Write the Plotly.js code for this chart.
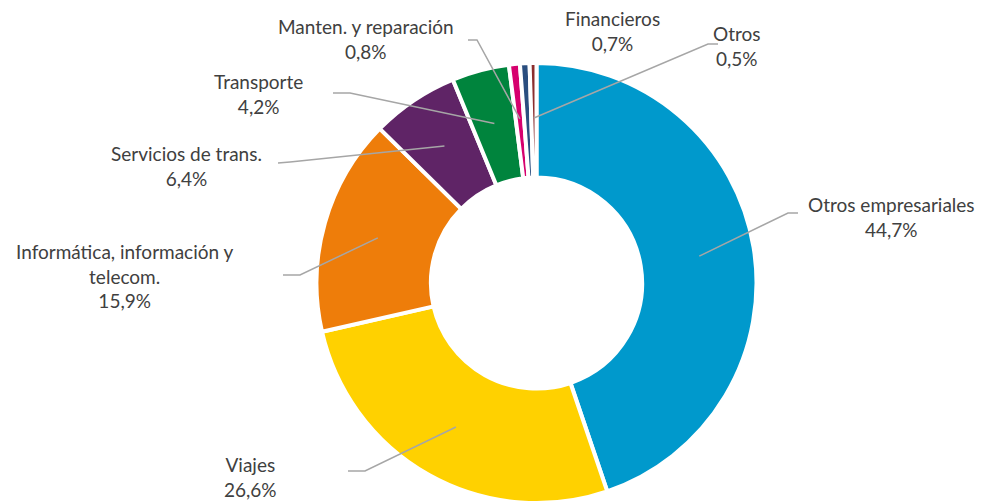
<!DOCTYPE html>
<html><head><meta charset="utf-8">
<script src="https://cdn.plot.ly/plotly-3.0.1.min.js"></script>
<style>html,body{margin:0;padding:0;background:#fff}</style>
</head><body><div id="chart" style="width:982px;height:504px"></div>
<script>
const categories = ["Otros empresariales","Viajes","Informática, información y<br>telecom.","Servicios de trans.","Transporte","Manten. y reparación","Financieros","Otros"];
const values = [44.7, 26.6, 15.9, 6.4, 4.2, 0.8, 0.7, 0.5];
const valueLabels = ["44,7%","26,6%","15,9%","6,4%","4,2%","0,8%","0,7%","0,5%"];
const colors = ["#0099CC","#FFD100","#EE7D0A","#5F2466","#00843D","#D6006E","#2A4E7F","#8B2E2E"];

const W = 982, H = 504;
const cx = 536.5, cy = 283, R = 220;
// label placement (pixels): label centre, elbow, line end
const labelLayout = [
  {lx: 891, ly: 217, elbow: [788, 213], end: [798, 213]},
  {lx: 250, ly: 477, elbow: [365, 471], end: [348, 471]},
  {lx: 125, ly: 276, elbow: [300, 275], end: [283, 275]},
  {lx: 186, ly: 166, elbow: [290, 162], end: [278, 163]},
  {lx: 258, ly: 94, elbow: [350, 93], end: [333, 93]},
  {lx: 366, ly: 39, elbow: [477, 40], end: [468, 40]},
  {lx: 612, ly: 31, elbow: null, end: null},
  {lx: 737, ly: 46, elbow: [708, 44], end: [718, 44]}
];
const px = x => x / W, py = y => 1 - y / H;

const total = values.reduce((a, b) => a + b, 0);
let cum = 0;
const shapes = [], annotations = [];
values.forEach((v, i) => {
  const frac = (cum + v / 2) / total;
  cum += v;
  const ang = frac * 2 * Math.PI;
  const ax = cx + 0.75 * R * Math.sin(ang), ay = cy - 0.75 * R * Math.cos(ang);
  const L = labelLayout[i];
  if (L.elbow) {
    shapes.push({type: 'path', xref: 'paper', yref: 'paper',
      path: `M ${px(ax)} ${py(ay)} L ${px(L.elbow[0])} ${py(L.elbow[1])} L ${px(L.end[0])} ${py(L.end[1])}`,
      line: {color: '#A6A6A6', width: 1.5}});
  }
  annotations.push({xref: 'paper', yref: 'paper', x: px(L.lx), y: py(L.ly),
    xanchor: 'center', yanchor: 'middle', showarrow: false, align: 'center',
    text: categories[i] + '<br>' + valueLabels[i],
    font: {family: 'Lato, "Open Sans", sans-serif', size: 19, color: '#404040'}});
});

const data = [{
  type: 'pie', labels: categories, values: values, hole: 0.48,
  sort: false, direction: 'clockwise', rotation: 0,
  marker: {colors: colors, line: {color: '#FFFFFF', width: 4}},
  textinfo: 'none', hoverinfo: 'label+percent', showlegend: false,
  domain: {x: [px(cx - R), px(cx + R)], y: [py(cy + R), py(cy - R)]}
}];
const layout = {
  width: W, height: H, margin: {l: 0, r: 0, t: 0, b: 0},
  paper_bgcolor: '#FFFFFF', showlegend: false,
  shapes: shapes, annotations: annotations
};
Plotly.newPlot('chart', data, layout, {displayModeBar: false, staticPlot: true});
</script></body></html>
